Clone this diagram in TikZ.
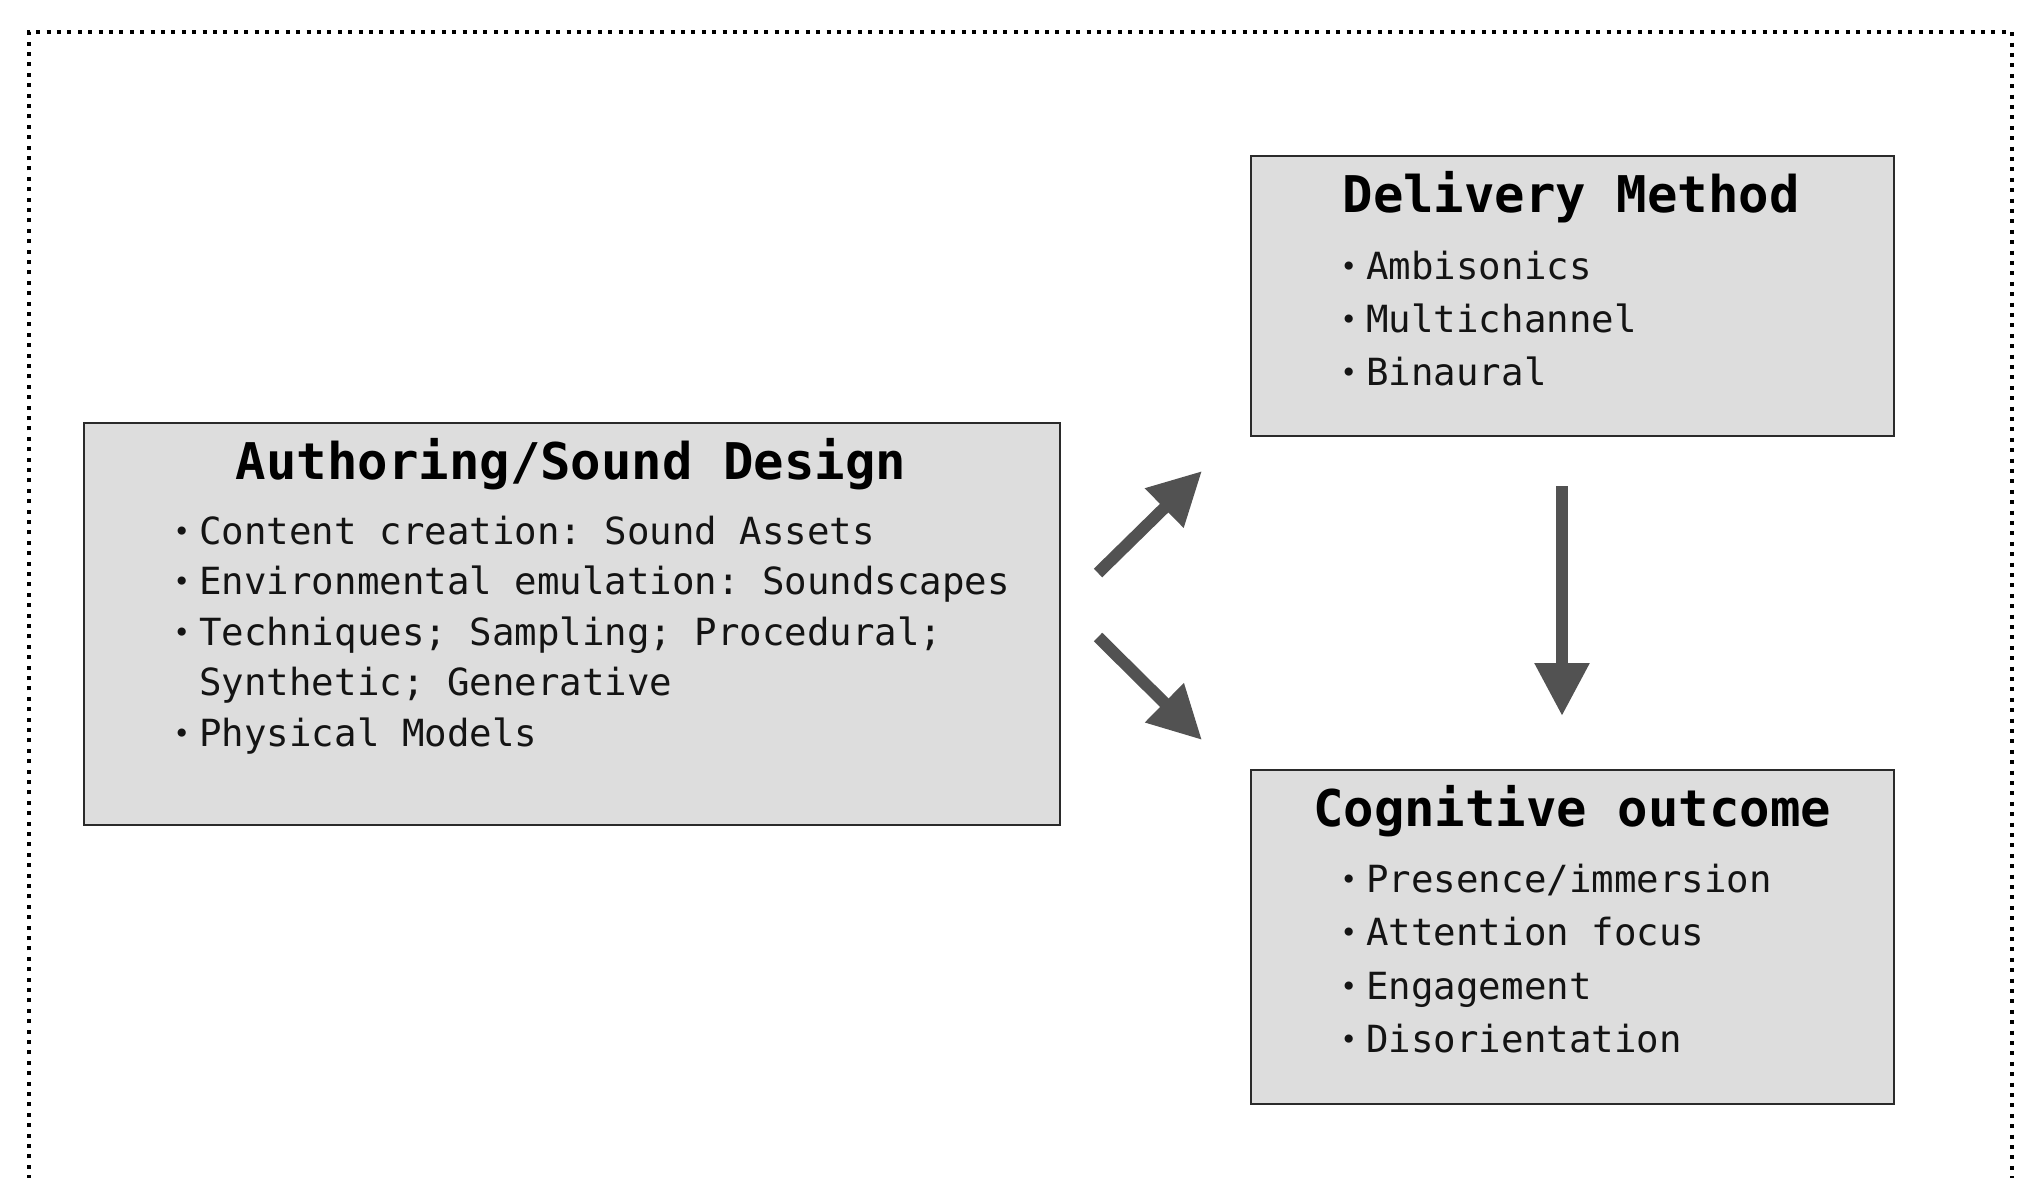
\documentclass[tikz,border=0pt]{standalone}
\usepackage{fontspec}
\setmonofont{DejaVu Sans Mono}
\usetikzlibrary{arrows.meta,fit}
\definecolor{boxfill}{HTML}{DDDDDD}
\definecolor{boxline}{HTML}{2A2A2A}
\definecolor{arrowgray}{HTML}{525252}
\newcommand\itembullet{\llap{\raisebox{1.2pt}{\scalebox{0.75}{\textbullet}}\hspace{4.6pt}}}
\begin{document}
\begin{tikzpicture}[x=0.5pt,y=-0.5pt,
  panel/.style={draw=boxline, line width=1.1pt, fill=boxfill, inner sep=0pt},
  heading/.style={anchor=base, inner sep=0pt, text=black,
    font=\ttfamily\bfseries\fontsize{25.3}{30}\selectfont},
  entry/.style={anchor=base west, inner sep=0pt, text=black!92,
    font=\ttfamily\fontsize{18.7}{22}\selectfont},
  flow/.style={draw=arrowgray, line width=6pt,
    -{Triangle[length=26.5pt,width=26pt]}}]

\useasboundingbox (0,0) rectangle (2027,1177);

% dotted frame, open at the bottom edge of the page
\begin{scope}
  \clip (0,0) rectangle (2027,1177);
  \draw[line width=2pt, dash pattern=on 2pt off 3.2pt]
    (29,1200) -- (29,32) -- (2012,32) -- (2012,1200);
\end{scope}

% panels
\node[panel, fit={(84,423) (1060,825)}] (authoring) {};
\node[panel, fit={(1251,156) (1894,436)}] (delivery) {};
\node[panel, fit={(1251,770) (1894,1104)}] (outcome) {};

% authoring / sound design
\node[heading] (authT) at (571,479) {Authoring/Sound Design};
\node[entry] (a1) at (199,544) {\itembullet Content creation: Sound Assets};
\node[entry] (a2) at (199,594) {\itembullet Environmental emulation: Soundscapes};
\node[entry] (a3) at (199,645) {\itembullet Techniques; Sampling; Procedural;};
\node[entry] (a4) at (199,695) {Synthetic; Generative};
\node[entry] (a5) at (199,746) {\itembullet Physical Models};

% delivery method
\node[heading] (delT) at (1571,212) {Delivery Method};
\node[entry] (d1) at (1366,279) {\itembullet Ambisonics};
\node[entry] (d2) at (1366,332) {\itembullet Multichannel};
\node[entry] (d3) at (1366,385) {\itembullet Binaural};

% cognitive outcome
\node[heading] (cogT) at (1572,826) {Cognitive outcome};
\node[entry] (c1) at (1366,892) {\itembullet Presence/immersion};
\node[entry] (c2) at (1366,945) {\itembullet Attention focus};
\node[entry] (c3) at (1366,999) {\itembullet Engagement};
\node[entry] (c4) at (1366,1052) {\itembullet Disorientation};

% arrow end points in the gaps between panels
\coordinate (upTail) at (1098,573);
\coordinate (upTip) at (1202,471);
\coordinate (dnTail) at (1098,637);
\coordinate (dnTip) at (1202,740);
\coordinate (vTail) at (1562,486);
\coordinate (vTip) at (1562,716);

\draw[flow] (upTail) -- (upTip);
\draw[flow] (dnTail) -- (dnTip);
\draw[flow] (vTail) -- (vTip);
\end{tikzpicture}
\end{document}
